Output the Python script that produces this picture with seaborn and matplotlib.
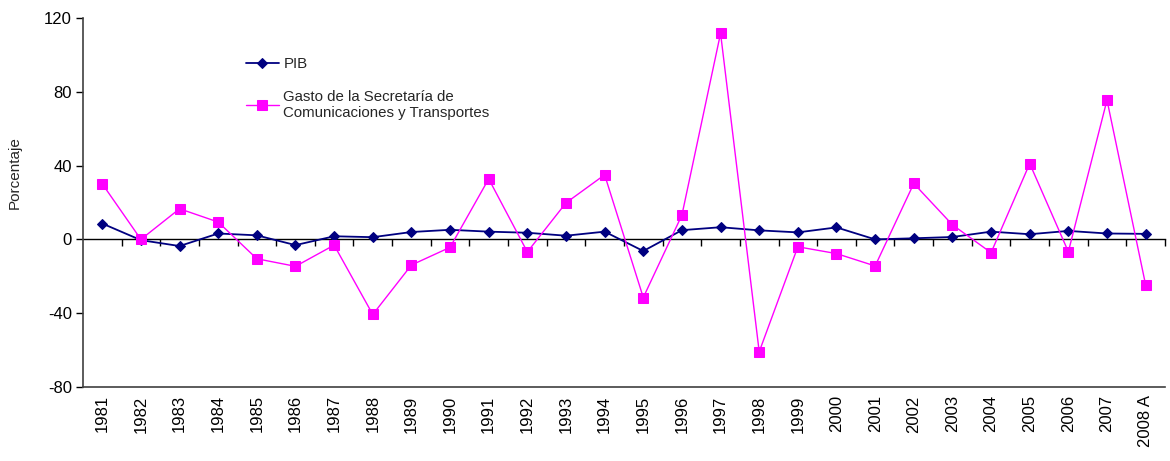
import numpy as np
import pandas as pd
import matplotlib.pyplot as plt
import seaborn as sns

years = ["1981", "1982", "1983", "1984", "1985", "1986", "1987", "1988", "1989", "1990",
         "1991", "1992", "1993", "1994", "1995", "1996", "1997", "1998", "1999", "2000",
         "2001", "2002", "2003", "2004", "2005", "2006", "2007", "2008 A"]
pib = [8.6, -0.4, -3.6, 3.2, 2.2, -3.1, 1.7, 1.2, 4.0, 5.2,
       4.2, 3.6, 2.0, 4.2, -6.3, 5.0, 6.6, 4.9, 3.8, 6.5,
       0.0, 0.6, 1.3, 4.2, 2.8, 4.6, 3.2, 3.0]
gasto = [30.1, 0.0, 16.6, 9.4, -10.5, -14.6, -3.1, -40.7, -13.9, -4.3,
         32.8, -6.8, 19.8, 35.0, -31.5, 13.2, 111.7, -60.9, -4.0, -7.7,
         -14.4, 30.3, 7.9, -7.2, 41.1, -6.7, 75.5, -24.7]

lbl_pib = "PIB"
lbl_gasto = "Gasto de la Secretaría de\nComunicaciones y Transportes"

df = pd.DataFrame({"anio": years, "pib": pib, "gasto": gasto})

sns.set_theme(style="white")
plt.rcParams["font.family"] = ["Liberation Sans", "DejaVu Sans"]
plt.rcParams["axes.unicode_minus"] = False

fig = plt.figure(figsize=(11.7, 4.61), dpi=100)
ax = fig.add_axes([0.0709, 0.1605, 0.9248, 0.8005])

sns.lineplot(data=df, x="anio", y="pib", sort=False, color="#000080", marker="D",
             markersize=5.5, markeredgecolor="#000080", linewidth=1.3, label=lbl_pib, ax=ax)
sns.lineplot(data=df, x="anio", y="gasto", sort=False, color="#FF00FF", marker="s",
             markersize=7, markeredgecolor="#FF00FF", linewidth=1.0, label=lbl_gasto, ax=ax)

n = len(years)
ax.set_xlim(-0.5, n - 0.5)
ax.set_ylim(-80, 120)
ax.set_yticks([-80, -40, 0, 40, 80, 120])
ax.set_xticks(range(n))
ax.set_xticklabels(years, rotation=90)
ax.tick_params(axis="x", length=0, pad=6, labelsize=12, colors="black")
ax.tick_params(axis="y", length=5, width=1, direction="out", left=True,
               labelsize=12, colors="black", pad=3)
ax.set_xlabel("")
ax.set_ylabel("Porcentaje", fontsize=11)
ax.yaxis.set_label_coords(-0.057, 0.58)

for s in ["top", "right"]:
    ax.spines[s].set_visible(False)
for s in ["left", "bottom"]:
    ax.spines[s].set_color("#404040")
    ax.spines[s].set_linewidth(1.2)

# zero line with category boundary ticks
zero_frac = (0 - (-80)) / (120 - (-80))
sec = ax.secondary_xaxis(zero_frac)
sec.set_xticks(np.arange(0.5, n, 1.0))
sec.set_xticklabels([])
sec.tick_params(axis="x", direction="out", length=5, width=1, colors="black")
sec.spines["bottom"].set_color("black")
sec.spines["bottom"].set_linewidth(1.0)

leg = ax.legend(loc="upper left", bbox_to_anchor=(0.138, 0.93), frameon=False,
                fontsize=10.8, labelspacing=1.25, handlelength=2.2, handletextpad=0.3)

fig.savefig("out.png", dpi=100)
